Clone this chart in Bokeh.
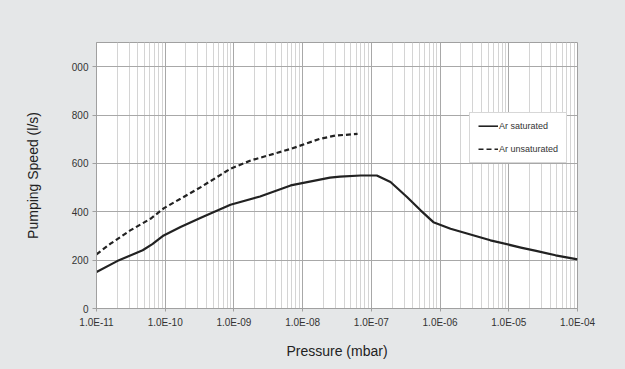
from bokeh.plotting import figure
from bokeh.models import FixedTicker, CustomJSTickFormatter, Legend, LegendItem, Range1d
from bokeh.embed import file_html
from bokeh.resources import INLINE

# Data (pressure in mbar, pumping speed in l/s)
sat_pressure = [1e-11, 2.0e-11, 4.7e-11, 6.5e-11, 9.5e-11, 1.67e-10, 3.3e-10,
                8.9e-10, 2.4e-9, 6.7e-9, 2.5e-8, 3.5e-8, 7.0e-8, 1.2e-7, 1.9e-7,
                3.3e-7, 5.2e-7, 8.0e-7, 1.42e-6, 5.4e-6, 1.5e-5, 2.5e-5, 4.8e-5, 1e-4]
sat_speed = [151, 196, 241, 266, 302, 337, 375,
             429, 463, 509, 541, 545, 550, 550, 523,
             461, 406, 357, 330, 282, 252, 238, 220, 203]

unsat_pressure = [1e-11, 1.6e-11, 3.1e-11, 6.1e-11, 9.6e-11, 1.67e-10, 3.3e-10,
                  8.9e-10, 1.75e-9, 6.7e-9, 1.8e-8, 3.0e-8, 6.3e-8]
unsat_speed = [224, 268, 323, 371, 415, 454, 502,
               578, 612, 660, 702, 715, 722]

x_ticks = [1e-11, 1e-10, 1e-9, 1e-8, 1e-7, 1e-6, 1e-5, 1e-4]
y_ticks = [0, 200, 400, 600, 800, 1000]
y_tick_labels = ["0", "200", "400", "600", "800", "000"]
series_names = ["Ar saturated", "Ar unsaturated"]

BG = "#e5e7e8"

p = figure(width=609, height=361, x_axis_type="log", output_backend="svg",
           toolbar_location=None,
           x_range=Range1d(1e-11, 1e-4), y_range=Range1d(0, 1100),
           min_border_left=96, min_border_right=32, min_border_top=42, min_border_bottom=53)
p.background_fill_color = "white"
p.border_fill_color = BG
p.outline_line_color = "#a0a0a0"

minor = [m * t for t in x_ticks[:-1] for m in range(2, 10)]
p.xaxis.ticker = FixedTicker(ticks=x_ticks, minor_ticks=minor)
p.xaxis.formatter = CustomJSTickFormatter(code="""
const e = Math.round(Math.log10(tick));
const s = Math.abs(e).toString().padStart(2, '0');
return '1.0E' + (e < 0 ? '-' : '+') + s;
""")
p.yaxis.ticker = FixedTicker(ticks=y_ticks)
p.yaxis.major_label_overrides = {t: l for t, l in zip(y_ticks, y_tick_labels)}

for ax in (p.xaxis, p.yaxis):
    ax.axis_line_color = "#a0a0a0"
    ax.major_tick_line_color = "#a0a0a0"
    ax.minor_tick_line_color = None
    ax.major_tick_in = 0
    ax.major_label_text_font = "Liberation Sans"
    ax.major_label_text_font_size = "10px"
    ax.major_label_text_color = "#333333"
    ax.axis_label_text_font = "Liberation Sans"
    ax.axis_label_text_font_size = "14px"
    ax.axis_label_text_font_style = "normal"
    ax.axis_label_text_color = "#222222"
p.xaxis.major_tick_out = 3
p.yaxis.major_tick_out = 4
p.xaxis.major_label_standoff = 4
p.yaxis.major_label_standoff = 4
p.xaxis.axis_label = "Pressure (mbar)"
p.yaxis.axis_label = "Pumping Speed (l/s)"
p.xaxis.axis_label_standoff = 12
p.yaxis.axis_label_standoff = 28

p.xgrid.grid_line_color = "#a8a8a8"
p.xgrid.minor_grid_line_color = "#d4d4d4"
p.ygrid.grid_line_color = "#a8a8a8"

r1 = p.line(sat_pressure, sat_speed, line_color="#222222", line_width=2.2, line_join="round")
r2 = p.line(unsat_pressure, unsat_speed, line_color="#222222", line_width=2.2, line_dash="5 3")

legend = Legend(items=[LegendItem(label=series_names[0], renderers=[r1]),
                       LegendItem(label=series_names[1], renderers=[r2])],
                location=(373, 145))
legend.padding = 8
legend.margin = 0
legend.spacing = 13
legend.glyph_width = 20
legend.glyph_height = 2
legend.label_height = 2
legend.label_standoff = 1
legend.label_text_font = "Liberation Sans"
legend.label_text_font_size = "9px"
legend.label_text_color = "#333333"
legend.border_line_color = "#b0b0b0"
legend.background_fill_color = "white"
legend.background_fill_alpha = 1
p.add_layout(legend)

html = file_html(p, INLINE)
html = html.replace("<head>", "<head><style>html,body{background:%s;}</style>" % BG, 1)
open("out.html", "w").write(html)
